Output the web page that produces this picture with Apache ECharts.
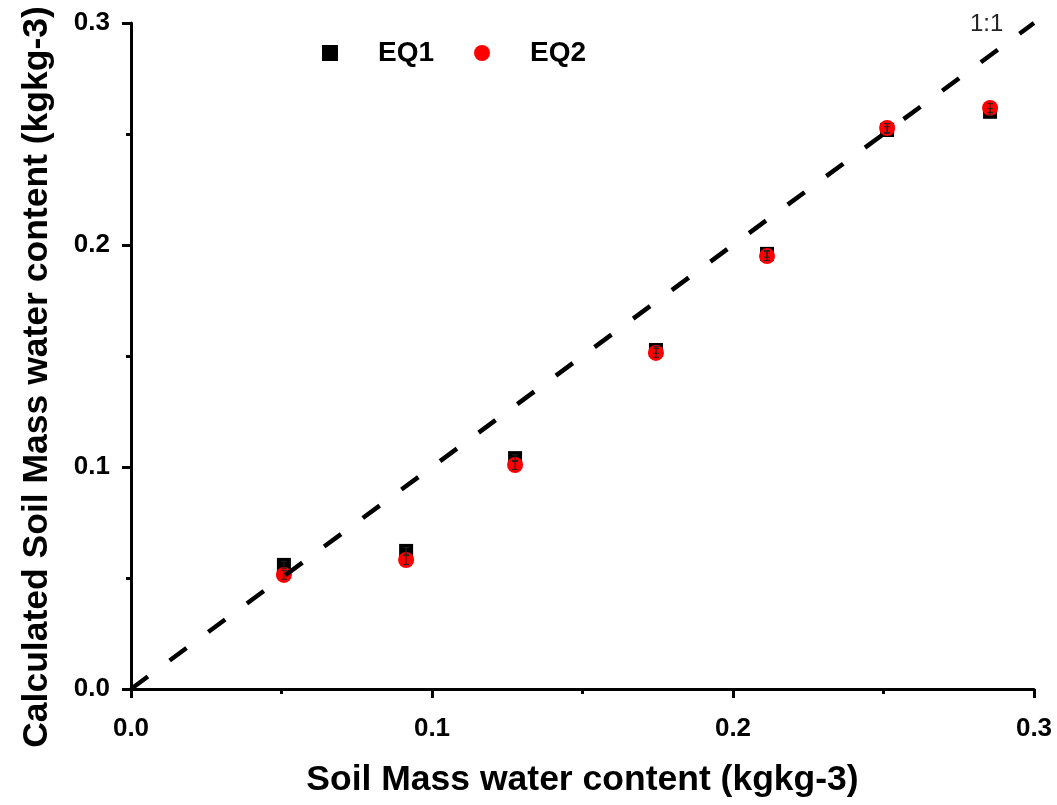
<!DOCTYPE html>
<html>
<head>
<meta charset="utf-8">
<script src="https://cdn.jsdelivr.net/npm/echarts@6/dist/echarts.min.js"></script>
<style>
  html, body { margin: 0; padding: 0; background: #fff; }
  #chart { width: 1057px; height: 805px; }
</style>
</head>
<body>
<div id="chart"></div>
<script>
// Measured soil mass water content (x) against calculated values (y)
const measured = [0.0508, 0.0914, 0.1276, 0.1744, 0.2113, 0.2512, 0.2854];
const eq1 = [0.0559, 0.0622, 0.1040, 0.1527, 0.1960, 0.2518, 0.2600];
const eq2 = [0.0514, 0.0581, 0.1009, 0.1514, 0.1950, 0.2527, 0.2617];
const eq1Err = [0.0015, 0.0015, 0.0015, 0.0015, 0.0015, 0.0015, 0.0015];
const eq2Err = [0.002, 0.002, 0.002, 0.002, 0.002, 0.002, 0.002];
const axisTicks = [0.0, 0.1, 0.2, 0.3];
const oneToOne = [[0, 0], [0.3, 0.3]];

const FONT = '"Liberation Sans", Arial, sans-serif';

function errorData(ys, errs) {
  return measured.map((x, i) => [x, ys[i] - errs[i], ys[i] + errs[i]]);
}

// Thin vertical error bar with short caps
function errorBar(params, api) {
  const x = api.value(0);
  const lo = api.coord([x, api.value(1)]);
  const hi = api.coord([x, api.value(2)]);
  const cap = 3;
  const style = { stroke: '#222', lineWidth: 1 };
  return {
    type: 'group',
    children: [
      { type: 'line', shape: { x1: lo[0], y1: lo[1], x2: hi[0], y2: hi[1] }, style },
      { type: 'line', shape: { x1: lo[0] - cap, y1: lo[1], x2: lo[0] + cap, y2: lo[1] }, style },
      { type: 'line', shape: { x1: hi[0] - cap, y1: hi[1], x2: hi[0] + cap, y2: hi[1] }, style }
    ]
  };
}

const axisCommon = {
  type: 'value',
  min: 0,
  max: 0.3,
  interval: 0.1,
  splitLine: { show: false },
  axisLine: { show: true, onZero: false, lineStyle: { color: '#000', width: 3 } },
  axisTick: { show: true, inside: false, length: 9, lineStyle: { color: '#000', width: 3 } },
  minorTick: { show: true, splitNumber: 2, length: 5, lineStyle: { color: '#000', width: 3 } },
  axisLabel: {
    color: '#000', fontFamily: FONT, fontWeight: 'bold', fontSize: 26,
    formatter: v => axisTicks.find(t => Math.abs(t - v) < 1e-9).toFixed(1)
  },
  nameLocation: 'middle',
  nameTextStyle: { color: '#000', fontFamily: FONT, fontWeight: 'bold', fontSize: 35.5 }
};

const chart = echarts.init(document.getElementById('chart'), null, { renderer: 'canvas' });
chart.setOption({
  animation: false,
  backgroundColor: '#fff',
  grid: { left: 131, right: 23, top: 23, bottom: 116 },
  legend: {
    left: 317, top: 34, itemGap: 40, itemWidth: 16, itemHeight: 16,
    textStyle: { color: '#000', fontFamily: FONT, fontWeight: 'bold', fontSize: 28, padding: [0, 0, 0, 35] },
    data: [
      { name: 'EQ1', icon: 'rect', itemStyle: { color: '#000', opacity: 1 } },
      { name: 'EQ2', icon: 'circle', itemStyle: { color: '#ff0000', opacity: 1 } }
    ]
  },
  xAxis: Object.assign({}, axisCommon, {
    name: 'Soil Mass water content (kgkg-3)', nameGap: 73,
    axisLabel: Object.assign({}, axisCommon.axisLabel, { margin: 27 })
  }),
  yAxis: Object.assign({}, axisCommon, {
    name: 'Calculated Soil Mass water content (kgkg-3)', nameGap: 76,
    nameTextStyle: Object.assign({}, axisCommon.nameTextStyle, { padding: [0, 42, 0, 0] }),
    axisLabel: Object.assign({}, axisCommon.axisLabel, { margin: 21 })
  }),
  series: [
    {
      name: 'EQ1', type: 'scatter', symbol: 'rect', symbolSize: 14,
      itemStyle: { color: '#000', opacity: 1 },
      data: measured.map((x, i) => [x, eq1[i]]), z: 2
    },
    {
      name: 'EQ2', type: 'scatter', symbol: 'circle', symbolSize: 16,
      itemStyle: { color: '#ff0000', opacity: 1 },
      data: measured.map((x, i) => [x, eq2[i]]), z: 3
    },
    {
      name: 'EQ1 error', type: 'custom', renderItem: errorBar,
      data: errorData(eq1, eq1Err), silent: true, z: 4
    },
    {
      name: 'EQ2 error', type: 'custom', renderItem: errorBar,
      data: errorData(eq2, eq2Err), silent: true, z: 4
    },
    {
      // 1:1 reference line drawn above the markers
      name: '1:1', type: 'line', data: oneToOne, symbol: 'none', silent: true,
      lineStyle: { color: '#000', width: 4.5, type: [21, 27] },
      endLabel: {
        show: true, formatter: '1:1', color: '#222', fontFamily: FONT, fontSize: 24,
        align: 'left', offset: [-72, 1]
      },
      z: 5
    }
  ]
});
</script>
</body>
</html>
